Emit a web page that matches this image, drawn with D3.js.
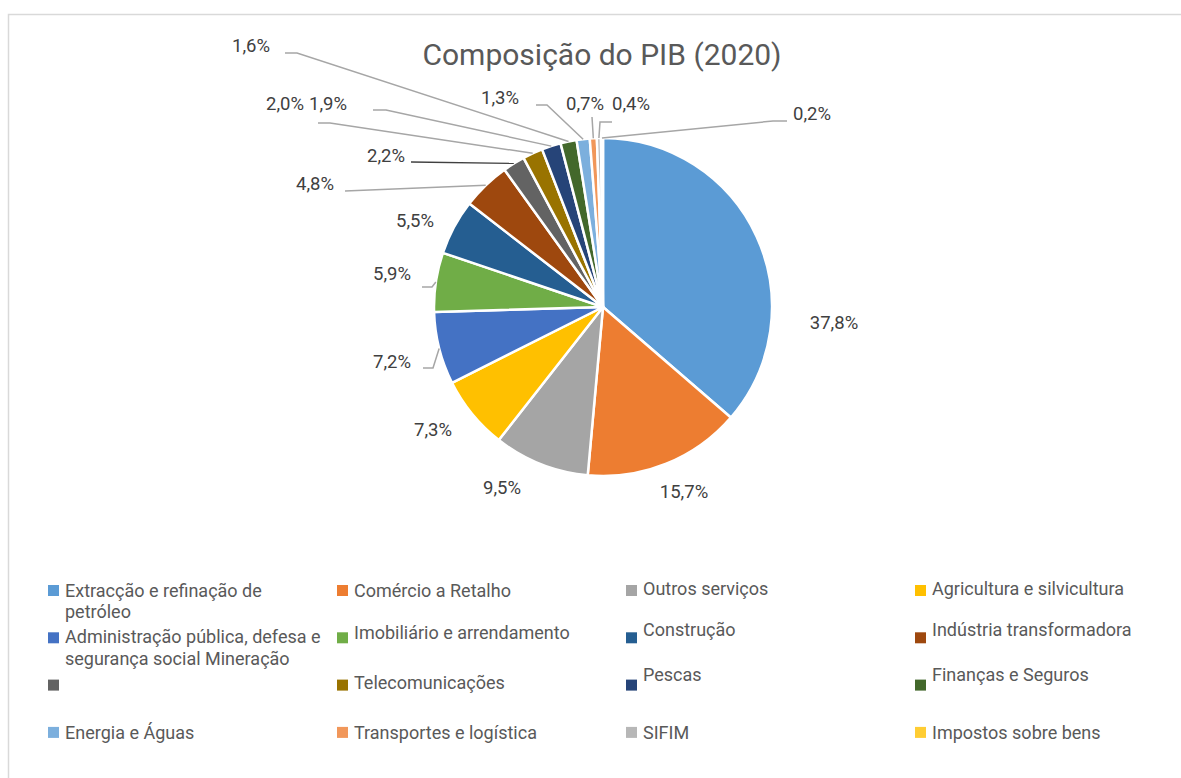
<!DOCTYPE html>
<html>
<head>
<meta charset="utf-8">
<script src="https://cdn.jsdelivr.net/npm/d3@7"></script>
<style>
  body { margin: 0; background: #fff; }
  svg { display: block; font-family: Roboto, "Noto Sans", sans-serif; }
</style>
</head>
<body>
<div class="container"></div>
<script>
// PIB 2020 - composição por sector
const categories = [
  "Extracção e refinação de petróleo", "Comércio a Retalho", "Outros serviços", "Agricultura e silvicultura",
  "Administração pública, defesa e segurança social Mineração", "Imobiliário e arrendamento", "Construção", "Indústria transformadora",
  "", "Telecomunicações", "Pescas", "Finanças e Seguros",
  "Energia e Águas", "Transportes e logística", "SIFIM", "Impostos sobre bens"
]
const shares = [37.8, 15.7, 9.5, 7.3, 7.2, 5.9, 5.5, 4.8, 2.2, 2.0, 1.9, 1.6, 1.3, 0.7, 0.4, 0.2]
const labels = ["37,8%", "15,7%", "9,5%", "7,3%", "7,2%", "5,9%", "5,5%", "4,8%",
                "2,2%", "2,0%", "1,9%", "1,6%", "1,3%", "0,7%", "0,4%", "0,2%"]
const colors = ["#5B9BD5", "#ED7D31", "#A5A5A5", "#FFC000", "#4472C4", "#70AD47", "#255E91", "#9E480E",
                "#636363", "#997300", "#264478", "#43682B", "#7CAFDD", "#F1975A", "#B7B7B7", "#FFCD33"]

// layout of the data labels (text centres) and leader line start points
const labelPos = [[834, 322], [684, 491], [502, 487], [433, 429], [392, 361], [392, 273], [415, 220], [315, 183],
                  [386, 155], [285, 103], [328, 103], [251, 45], [500, 97], [585, 103], [631, 103], [812, 113]]
const leaders = {
  4: [[423, 368], [433, 368]],
  5: [[422, 287], [432, 287]],
  7: [[345, 191]],
  8: [[411, 162]],
  9: [[318, 123], [330, 123]],
  10: [[373, 110], [386, 110]],
  11: [[285, 53], [297, 53]],
  12: [[536, 105], [547, 105]],
  13: [[592, 117]],
  14: [[612, 122], [600, 122]],
  15: [[787, 121], [773, 121]]
}
const legendNudge = [0, 0, -2, -2, -1, -5, -8, -8, 0, -3, -11, -11, 0, 0, 0, 0]

const w = 1181
const h = 778
const cx = 603, cy = 307, r = 169

const svg = d3.select(".container")
  .append("svg")
  .attr("width", w)
  .attr("height", h)

// chart area border (only top/left visible in the frame)
svg.append("rect")
  .attr("x", 8.5).attr("y", 14.5)
  .attr("width", 1200).attr("height", 800)
  .attr("fill", "none")
  .attr("stroke", "#D9D9D9")
  .attr("stroke-width", 1.5)

svg.append("text")
  .attr("x", 602)
  .attr("y", 65)
  .attr("text-anchor", "middle")
  .attr("font-size", 30)
  .attr("fill", "#595959")
  .text("Composição do PIB (2020)")

const pie = d3.pie().sort(null).value(d => d)
const arcs = pie(shares)
const arc = d3.arc().innerRadius(0).outerRadius(r)
const edge = d3.arc().innerRadius(r).outerRadius(r)

const g = svg.append("g").attr("transform", `translate(${cx},${cy})`)

g.selectAll("path")
  .data(arcs)
  .enter()
  .append("path")
  .attr("d", arc)
  .attr("fill", (d, i) => colors[i])
  .attr("stroke", "#fff")
  .attr("stroke-width", 2.5)
  .attr("stroke-linejoin", "round")

// leader lines
const line = d3.line()
Object.keys(leaders).forEach(k => {
  const i = +k
  const c = edge.centroid(arcs[i])
  const pts = leaders[k].concat([[c[0] + cx, c[1] + cy]])
  svg.append("path")
    .attr("d", line(pts))
    .attr("fill", "none")
    .attr("stroke", i === 8 ? "#404040" : "#A6A6A6")
    .attr("stroke-width", i === 8 ? 1.3 : 1.5)
})

svg.selectAll(".lbl")
  .data(labels)
  .enter()
  .append("text")
  .attr("class", "lbl")
  .attr("x", (d, i) => labelPos[i][0])
  .attr("y", (d, i) => labelPos[i][1])
  .attr("dy", "0.36em")
  .attr("text-anchor", "middle")
  .attr("font-size", 18.5)
  .attr("fill", "#404040")
  .text(d => d)

// legend, 4 columns
const legend = svg.append("g")
const colX = d3.scaleLinear().domain([0, 1]).range([48, 337])
const rowY = d3.scaleLinear().domain([0, 1]).range([590.5, 637.8])
const maxW = 262

categories.forEach((name, i) => {
  const col = i % 4, row = Math.floor(i / 4)
  const x = colX(col), y = rowY(row)
  legend.append("rect")
    .attr("x", x).attr("y", y - 5.5)
    .attr("width", 11).attr("height", 11)
    .attr("fill", colors[i])

  const t = legend.append("text")
    .attr("x", x + 17)
    .attr("y", y + legendNudge[i])
    .attr("font-size", 18)
    .attr("fill", "#595959")

  // wrap words
  const words = name.split(" ")
  let lineWords = []
  let ts = t.append("tspan").attr("x", x + 17).attr("dy", "0.36em")
  words.forEach(word => {
    lineWords.push(word)
    ts.text(lineWords.join(" "))
    if (ts.node().getComputedTextLength() > maxW && lineWords.length > 1) {
      lineWords.pop()
      ts.text(lineWords.join(" "))
      lineWords = [word]
      ts = t.append("tspan").attr("x", x + 17).attr("dy", 21.5).text(word)
    }
  })
})
</script>
</body>
</html>
